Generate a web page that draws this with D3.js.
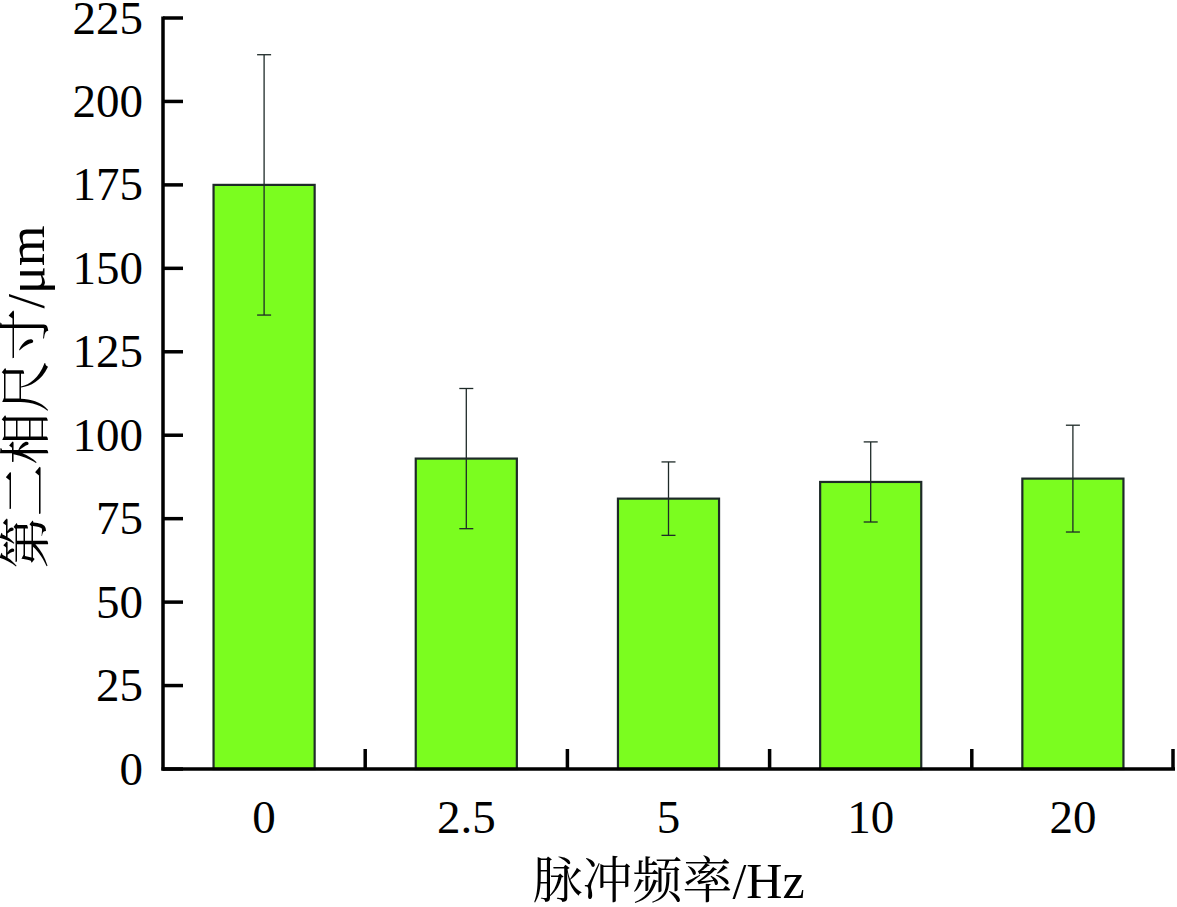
<!DOCTYPE html>
<html>
<head>
<meta charset="utf-8">
<script src="https://cdn.jsdelivr.net/npm/d3@7"></script>
<style>
  body { margin: 0; background: #fff; }
  svg { display: block; }
</style>
</head>
<body>
<svg id="chart" width="1177" height="907"></svg>
<script>
// frequency categories and measured values
var categories = ["0", "2.5", "5", "10", "20"];
var means = [175, 93, 81, 86, 87];
var errLow = [136, 72, 70, 74, 71];
var errHigh = [214, 114, 92, 98, 103];
var yTicks = [0, 25, 50, 75, 100, 125, 150, 175, 200, 225];

var svg = d3.select("#chart");
var plotLeft = 163, plotRight = 1174, plotTop = 18, plotBottom = 769;
var serif = "'Liberation Serif', 'Times New Roman', serif";
var cjk = "'Liberation Serif', 'Noto Serif CJK SC', 'Noto Sans CJK SC', serif";

var x = d3.scaleBand()
    .domain(categories)
    .range([plotLeft, plotRight])
    .paddingInner(0.5)
    .paddingOuter(0.25);

var y = d3.scaleLinear()
    .domain([0, 225])
    .range([plotBottom, plotTop]);

var data = categories.map(function(c, i) {
  return { cat: c, v: means[i], lo: errLow[i], hi: errHigh[i] };
});

// bars
svg.append("g").selectAll("rect")
    .data(data)
    .enter().append("rect")
    .attr("x", function(d) { return x(d.cat); })
    .attr("y", function(d) { return y(d.v); })
    .attr("width", x.bandwidth())
    .attr("height", function(d) { return y(0) - y(d.v); })
    .style("fill", "#7bfd1f")
    .style("stroke", "#1e2a28")
    .style("stroke-width", 2.2);

// error bars
var eb = svg.append("g").style("stroke", "#1e2a28").style("stroke-width", 1.3);
var cap = 7;
data.forEach(function(d) {
  var cx = x(d.cat) + x.bandwidth() / 2;
  eb.append("line").attr("x1", cx).attr("x2", cx).attr("y1", y(d.hi)).attr("y2", y(d.lo));
  eb.append("line").attr("x1", cx - cap).attr("x2", cx + cap).attr("y1", y(d.hi)).attr("y2", y(d.hi));
  eb.append("line").attr("x1", cx - cap).attr("x2", cx + cap).attr("y1", y(d.lo)).attr("y2", y(d.lo));
});

// y axis
var yAxis = svg.append("g");
yAxis.append("line")
    .attr("x1", plotLeft).attr("x2", plotLeft)
    .attr("y1", y(225) - 1.5).attr("y2", plotBottom + 1.5)
    .style("stroke", "#000").style("stroke-width", 3.5);
yAxis.selectAll("line.tick")
    .data(yTicks)
    .enter().append("line")
    .attr("class", "tick")
    .attr("x1", plotLeft).attr("x2", plotLeft + 20)
    .attr("y1", function(d) { return y(d); })
    .attr("y2", function(d) { return y(d); })
    .style("stroke", "#000").style("stroke-width", 3.5);
yAxis.selectAll("text")
    .data(yTicks)
    .enter().append("text")
    .attr("x", 143)
    .attr("y", function(d) { return y(d); })
    .attr("dy", "0.33em")
    .attr("text-anchor", "end")
    .style("font-family", serif)
    .style("font-size", "47px")
    .text(function(d) { return d; });

// x axis
var xAxis = svg.append("g");
xAxis.append("line")
    .attr("x1", plotLeft - 1.5).attr("x2", plotRight + 1)
    .attr("y1", plotBottom).attr("y2", plotBottom)
    .style("stroke", "#000").style("stroke-width", 3.5);
var step = x.step();
xAxis.selectAll("line.tick")
    .data(categories)
    .enter().append("line")
    .attr("class", "tick")
    .attr("x1", function(d) { return Math.min(x(d) + x.bandwidth() + step * 0.25, plotRight - 1); })
    .attr("x2", function(d) { return Math.min(x(d) + x.bandwidth() + step * 0.25, plotRight - 1); })
    .attr("y1", plotBottom).attr("y2", plotBottom - 20)
    .style("stroke", "#000").style("stroke-width", 3.5);
xAxis.selectAll("text")
    .data(categories)
    .enter().append("text")
    .attr("x", function(d) { return x(d) + x.bandwidth() / 2; })
    .attr("y", 833)
    .attr("text-anchor", "middle")
    .style("font-family", serif)
    .style("font-size", "47px")
    .text(function(d) { return d; });

// axis titles
svg.append("text")
    .attr("x", (plotLeft + plotRight) / 2)
    .attr("y", 898)
    .attr("text-anchor", "middle")
    .style("font-family", cjk)
    .style("font-size", "50px")
    .text("脉冲频率/Hz");

svg.append("text")
    .attr("transform", "translate(44,397) rotate(-90)")
    .attr("text-anchor", "middle")
    .style("font-family", cjk)
    .style("font-size", "52px")
    .text("第二相尺寸/μm");
</script>
</body>
</html>
